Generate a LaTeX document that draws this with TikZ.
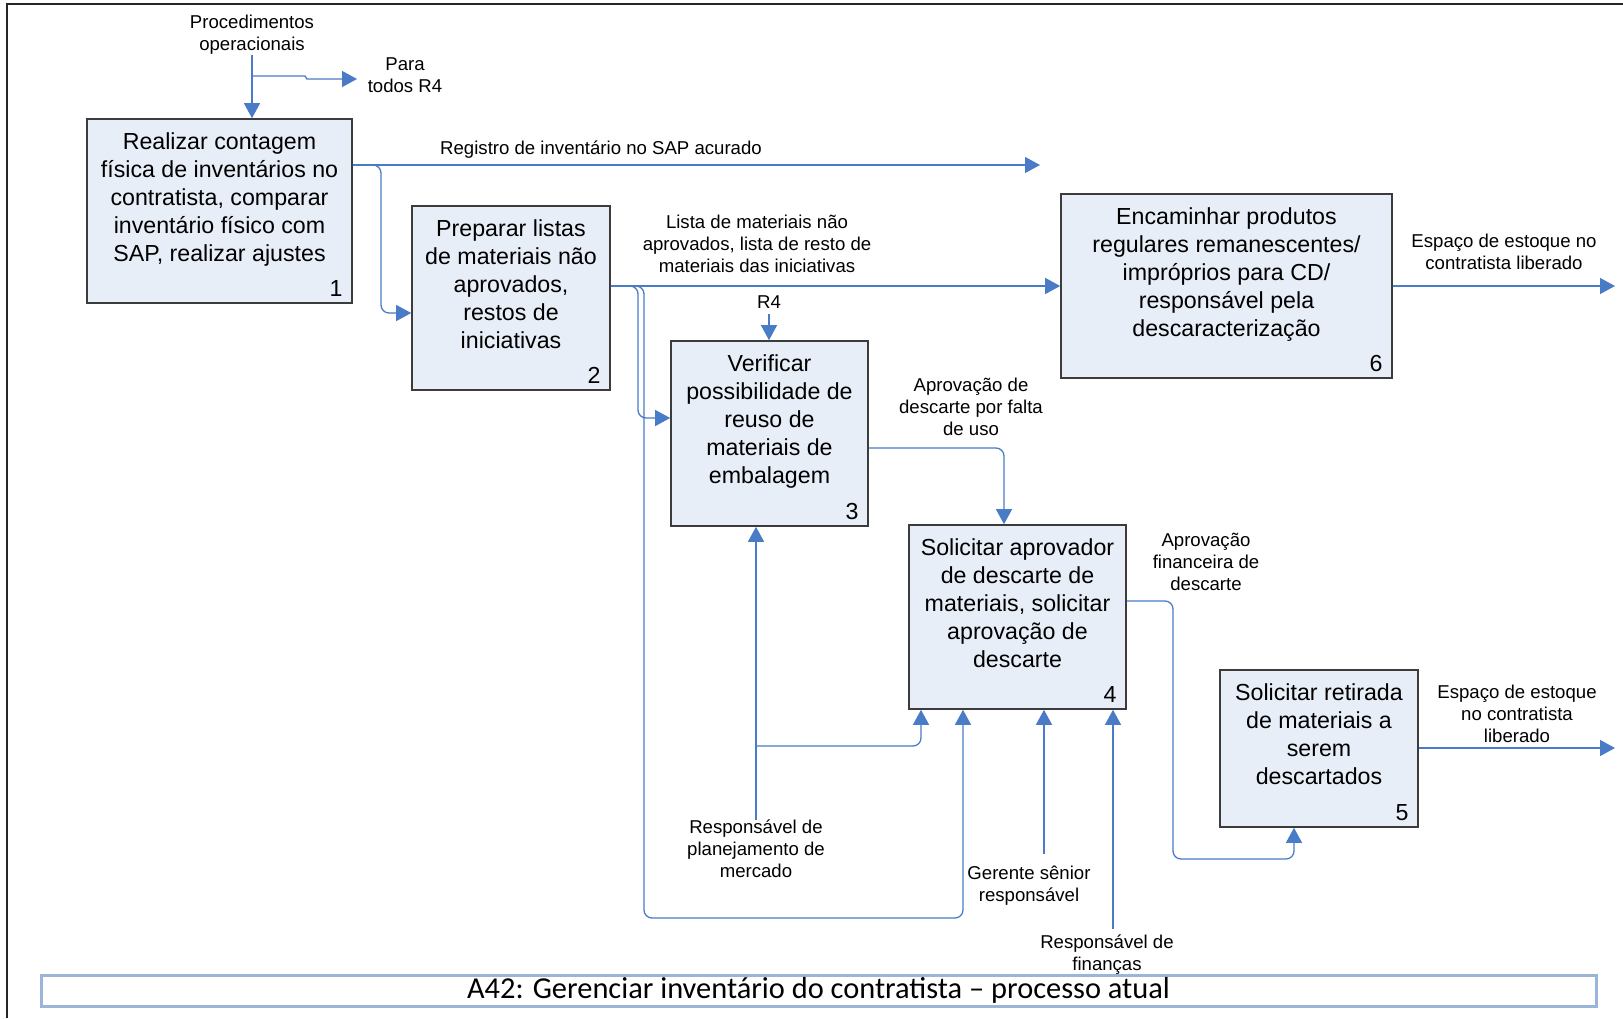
\documentclass[tikz,border=0pt]{standalone}
\usepackage{fontspec}
\setmainfont{Liberation Sans}
\newfontfamily\titlefont{Carlito}
\usetikzlibrary{arrows.meta}
\definecolor{flowblue}{HTML}{4A7BC6}
\definecolor{boxfill}{HTML}{E8EEF8}
\definecolor{boxline}{HTML}{3C3C3C}
\definecolor{titleline}{HTML}{9BB5D8}

\begin{document}
\begin{tikzpicture}[x=0.5pt,y=-0.5pt,
  box/.style={draw=boxline, fill=boxfill, line width=0.8pt, align=center, font=\fontsize{11.6}{14}\selectfont},
  num/.style={anchor=south east, inner xsep=5pt, inner ysep=3.5pt, font=\fontsize{11.6}{14}\selectfont},
  lbl/.style={align=center, inner sep=0pt, font=\fontsize{9.3}{11}\selectfont},
  flow/.style={draw=flowblue, line width=0.65pt, rounded corners=4pt, -{Triangle[length=7.5pt,width=8pt]}}]

\useasboundingbox (0,0) rectangle (1623,1018);
\draw[line width=1pt, black!85] (7,1018) -- (7,4) -- (1623,4);

\node[box, minimum width=132.5pt, minimum height=92pt, label={[num]south east:1}] (1) at (219.5,211)
  {Realizar contagem\\física de inventários no\\contratista, comparar\\inventário físico com\\SAP, realizar ajustes\\ \mbox{}};
\node[box, minimum width=99pt, minimum height=92pt, label={[num]south east:2}] (2) at (511,298)
  {Preparar listas\\de materiais não\\aprovados,\\restos de\\iniciativas\\ \mbox{}};
\node[box, minimum width=98.5pt, minimum height=92.5pt, label={[num]south east:3}] (3) at (769.5,433.5)
  {Verificar\\possibilidade de\\reuso de\\materiais de\\embalagem\\ \mbox{}};
\node[box, minimum width=108.5pt, minimum height=92pt, label={[num]south east:4}] (4) at (1017.5,617)
  {Solicitar aprovador\\de descarte de\\materiais, solicitar\\aprovação de\\descarte\\ \mbox{}};
\node[box, minimum width=99pt, minimum height=78.5pt, label={[num]south east:5}] (5) at (1319,748.5)
  {Solicitar retirada\\de materiais a\\serem\\descartados\\ \mbox{}};
\node[box, minimum width=165.5pt, minimum height=92pt, label={[num]south east:6}] (6) at (1226.5,286)
  {Encaminhar produtos\\regulares remanescentes/\\impróprios para CD/\\responsável pela\\descaracterização\\ \mbox{}};

\node[lbl] (7) at (252,35) {Procedimentos\\operacionais};
\node[lbl] (8) at (405,75) {Para\\todos R4};
\node[lbl] (9) at (601,150) {Registro de inventário no SAP acurado};
\node[lbl] (10) at (757,244) {Lista de materiais não\\aprovados, lista de resto de\\materiais das iniciativas};
\node[lbl] (11) at (769,302) {R4};
\node[lbl] (12) at (971,407) {Aprovação de\\descarte por falta\\de uso};
\node[lbl] (13) at (1206,562) {Aprovação\\financeira de\\descarte};
\node[lbl] (14) at (1517,714) {Espaço de estoque\\no contratista\\liberado};
\node[lbl] (15) at (1504,252) {Espaço de estoque no\\contratista liberado};
\node[lbl] (16) at (756,849) {Responsável de\\planejamento de\\mercado};
\node[lbl] (17) at (1029,886) {Gerente sênior\\responsável};
\node[lbl] (18) at (1107,955) {Responsável de\\finanças};

\node[draw=titleline, line width=1.5pt, minimum width=777.5pt, minimum height=15.5pt, inner sep=0pt,
  font=\titlefont\fontsize{15.2}{16}\selectfont] (19) at (818.5,990.5)
  {A42: Gerenciar inventário do contratista – processo atual};

\coordinate (c1) at (252,76);
\coordinate (c2) at (357,79);
\coordinate (r1) at (1040,165);
\coordinate (r5) at (1615,748);
\coordinate (r6) at (1615,286);
\coordinate (g1) at (1044,854);
\coordinate (f1) at (1113,929);

\draw[flow] (7.south) -- (7.south |- 1.north);
\draw[flow, sharp corners] (c1) -- (305,76) -- (307,79) -- (c2);
\draw[flow] (1.east |- r1) -- (r1);
\draw[flow] (1.east |- r1) -- (381,165) -- (381,313) -- (2.west |- 0,313);
\draw[flow] (2.east |- 6.west) -- (6.west);
\draw[flow] (2.east |- 6.west) -- (638,286) -- (638,418) -- (3.west |- 0,418);
\draw[flow] (2.east |- 6.west) -- (644,286) -- (644,918) -- (963,918) -- (963,0 |- 4.south);
\draw[flow] (11.south |- 0,314) -- (11.south |- 3.north);
\draw[flow] (3.east |- 0,448) -- (1004,448) -- (1004,0 |- 4.north);
\draw[flow] (4.east |- 0,601) -- (1173,601) -- (1173,859) -- (1294,859) -- (1294,0 |- 5.south);
\draw[flow] (5.east |- r5) -- (r5);
\draw[flow] (6.east) -- (r6);
\draw[flow] (16.north) -- (16.north |- 3.south);
\draw[flow] (16.north |- 0,746) -- (921,746) -- (921,0 |- 4.south);
\draw[flow] (g1) -- (g1 |- 4.south);
\draw[flow] (f1) -- (f1 |- 4.south);

\end{tikzpicture}
\end{document}
